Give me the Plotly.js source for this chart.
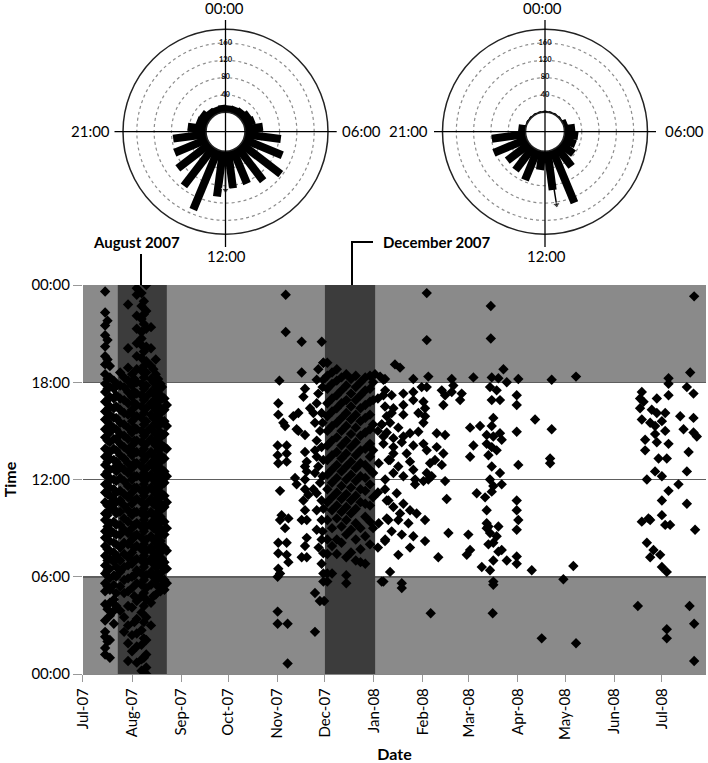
<!DOCTYPE html>
<html><head><meta charset="utf-8">
<script src="https://cdn.plot.ly/plotly-3.0.1.min.js"></script>
<style>html,body{margin:0;padding:0;background:#fff}#chart{width:708px;height:763px}</style>
</head><body><div id="chart"></div>
<script>
// ---------- Rose diagrams (counts per hour, bins centred on half hours) ----------
const roseHours = [0.5,1.5,2.5,3.5,4.5,5.5,6.5,7.5,8.5,9.5,10.5,11.5,12.5,13.5,14.5,15.5,16.5,17.5,18.5,19.5,20.5,21.5,22.5,23.5];
const augustCounts = [16,17,19,24,27,42,84,97,116,98,85,87,106,150,113,94,82,77,43,26,25,18,16,17];
const decemberCounts = [3,3,3,3,10,25,32,31,38,56,133,91,44,76,67,65,83,79,17,3,3,3,3,3];
const meanHours = [12.0, 11.4];       // mean direction (August, December)
const meanLengths = [90, 126];        // mean vector length
const ringValues = [40,80,120,160];
const ringLabels = ['40','80','120','160'];
const polarLabels = ['00:00','06:00','12:00','21:00'];

// ---------- Time-of-day scatter (day offset from 1 Jul 2007, hour of day) ----------
const augColDays = [14,15.5,17,19.5,21,23.5,26,28.5,31,32.5,34,37,38.5,40,43,44.5,46,47.5,49,50,51.5,53];
const augColTimes = [
 [1.2,1.6,2.3,2.6,3.3,4.3,5.1,5.6,6.2,6.7,7.3,7.9,8.4,8.8,9.5,9.9,10.6,11.2,11.7,12.3,12.9,13.4,13.9,14.6,15.1,15.7,16.2,16.8,17.4,17.9,18.5,19.1,19.6,20.2,20.9,21.5,22.3,23.6],
 [2.0,4.0,5.4,6.4,7.0,7.7,8.5,9.1,9.8,10.4,11.1,11.8,12.5,13.1,13.8,14.4,15.0,15.6,16.3,16.9,17.6,18.2,19.4,20.6,21.8],
 [1.0,2.1,3.6,4.4,5.2,5.9,6.5,7.1,7.6,8.2,8.9,9.3,10.1,10.5,11.0,11.5,12.1,12.6,13.3,13.7,14.3,14.9,15.4,16.0,16.5,17.1,17.7,18.3,19.0],
 [3.1,3.9,4.6,5.5,6.1,6.9,7.5,8.1,8.7,9.4,10.2,10.8,11.4,12.0,12.7,13.2,13.9,14.5,15.2,15.8,16.4,17.0,17.6,18.1],
 [4.2,5.0,6.0,6.6,7.3,8.0,8.6,9.2,9.9,10.6,11.2,11.9,12.5,13.1,13.8,14.5,15.1,15.8,16.5,17.2,17.9],
 [3.9,5.4,6.3,7.0,7.8,8.6,9.2,10.0,10.7,11.3,12.1,12.8,13.5,14.2,14.8,15.5,16.3,17.0,17.8,18.6],
 [2.6,3.5,5.0,5.8,6.6,7.4,8.1,8.9,9.6,10.4,11.1,11.9,12.6,13.3,14.0,14.7,15.4,16.1,16.9,17.7,18.3],
 [0.8,1.9,3.0,4.2,5.1,5.9,6.7,7.2,8.0,8.7,9.4,10.1,10.9,11.6,12.4,13.0,13.8,14.5,15.2,16.0,16.7,17.4,18.1,18.9,20.1,22.8],
 [1.4,2.4,4.1,5.3,6.0,6.8,7.5,8.3,9.0,9.8,10.5,11.2,12.0,12.7,13.5,14.1,14.9,15.6,16.3,17.1,17.8,18.5],
 [3.2,4.8,6.1,7.0,7.8,8.5,9.2,10.0,10.7,11.5,12.2,13.0,13.7,14.4,15.2,15.9,16.7,17.4,18.2],
 [0.7,1.7,2.5,3.4,4.5,5.6,6.4,7.1,7.9,8.6,9.3,10.0,10.8,11.5,12.2,13.0,13.7,14.4,15.1,15.9,16.6,17.3,18.0,18.8,19.6,20.4,21.3,22.1,23.4,23.8],
 [0.2,0.9,1.8,2.7,3.8,4.8,5.5,6.2,7.0,7.7,8.4,9.1,9.9,10.6,11.3,12.1,12.8,13.6,14.3,15.0,15.8,16.5,17.2,17.9,18.7,19.5,20.3,20.7,21.1,21.9,22.7,23.5],
 [1.0,2.2,3.2,4.2,5.0,5.8,6.6,7.3,8.0,8.8,9.5,10.2,11.0,11.7,12.4,13.2,13.9,14.7,15.4,16.1,16.9,17.6,18.3,19.0,19.9,21.6,22.2,23.0],
 [0.0,0.4,1.2,2.1,3.5,4.6,5.3,6.1,6.9,7.6,8.3,9.1,9.8,10.5,11.3,12.0,12.7,13.4,14.2,14.9,15.6,16.4,17.1,17.8,18.6,19.3,20.2,21.3,22.4,24.0],
 [3.0,4.4,5.5,6.3,7.1,7.8,8.5,9.3,10.0,10.8,11.5,12.3,13.0,13.7,14.5,15.2,16.0,16.7,17.4,18.2,19.0,20.1,21.4],
 [4.8,6.0,6.8,7.5,8.3,9.0,9.8,10.5,11.3,12.0,12.8,13.5,14.3,15.0,15.8,16.5,17.3,18.0,18.8],
 [4.9,5.8,6.6,7.3,8.1,8.9,9.6,10.4,11.1,11.8,12.6,13.3,14.1,14.8,15.5,16.3,17.0,17.7,18.5,19.4],
 [5.4,6.2,7.0,7.8,8.5,9.3,10.0,10.8,11.5,12.3,13.0,13.8,14.5,15.3,16.0,16.8,17.5,18.2],
 [5.1,5.9,6.7,7.5,8.2,9.0,9.7,10.5,11.2,12.0,12.7,13.5,14.2,14.9,15.7,16.4,17.2,17.9],
 [5.5,6.3,7.1,7.9,8.7,9.5,10.2,11.0,11.7,12.5,13.2,14.0,14.7,15.5,16.2,17.0,17.7],
 [5.2,5.8,6.9,7.8,8.6,9.4,10.3,11.0,11.8,12.5,13.3,14.0,14.8,15.6,16.3,17.0],
 [5.6,6.5,7.6,9.0,10.6,12.2,13.9,15.3,16.6]
];
const decColDays = [154.5,157.5,160.5,163.5,166.5,169.5,172.5,175.5,178.5,181.5,183.5];
const decColTimes = [
 [5.7,6.2,7.4,8.3,9.5,10.6,11.4,12.3,13.2,14.1,15.0,15.9,16.7,17.6,18.4,19.2],
 [6.2,7.9,9.0,10.1,10.9,11.8,12.6,13.5,14.4,15.3,16.2,17.0,17.9,18.6],
 [7.4,8.3,9.6,10.4,11.2,12.1,12.9,13.7,14.6,15.5,16.4,17.2,18.1,18.8],
 [8.1,9.1,10.0,10.8,11.6,12.5,13.3,14.1,15.0,15.8,16.7,17.5,18.3],
 [5.6,6.1,7.2,8.6,9.5,10.3,11.1,12.0,12.8,13.6,14.4,15.3,16.1,16.9,17.8,18.5],
 [7.5,8.9,9.9,10.7,11.5,12.3,13.1,14.0,14.8,15.7,16.5,17.3,18.2],
 [7.0,8.3,9.3,10.2,11.0,11.9,12.7,13.5,14.3,15.2,16.0,16.9,17.7,18.4],
 [6.9,7.7,9.0,10.6,11.4,12.2,13.0,13.8,14.7,15.6,16.4,17.2,18.0],
 [6.8,8.5,9.7,10.5,11.3,12.1,12.9,13.9,14.9,15.8,16.6,17.5,18.3],
 [8.0,9.4,10.4,11.7,12.6,13.4,14.2,15.1,16.0,16.8,17.6,18.4],
 [9.0,10.9,12.4,13.8,15.4,16.9,18.0]
];
const novPoints = [
 [128.2,23.4],[128.2,21.1],[138.3,20.5],[151,20.5],[138.3,18.6],[124.2,18.1],[152,19.2],
 [123.1,3.85],[123.1,3.1],[129.4,3.1],[129.4,0.65],[146.7,2.6],[146.7,5.0],[149.8,4.5],[152.5,4.5],[152,5.7],
 [123.5,16.7],[123.5,16.0],[126.7,15.5],[127.8,15.3],[123.1,14.1],[128.8,14.1],[123.1,13.5],[128.8,13.6],[123.5,13.0],[128.8,13.1],[124.6,11.3],[125.6,9.8],[129.9,9.6],[124.6,9.5],[127.8,9.0],[123.5,8.1],[128.8,8.1],[123.5,7.45],[128.8,7.35],[129.9,6.9],[123.5,6.5],[124.6,6.2],[123.1,6.0],
 [133,15.9],[135.1,15.1],[136.2,15.0],[140.4,14.75],[140.4,13.7],[141.5,13.1],[140.4,12.8],[141.5,12.5],[134.1,12.1],[135.1,11.7],[140.4,12.0],[140.4,11.4],[142.5,11.05],[139.4,10.7],[140.4,10.1],[138.3,9.5],[141.5,9.5],[141.5,8.4],[140.4,7.9],[138.3,7.2],[141.5,7.2],[139.4,17.1],[140.4,17.6],[143.6,16.4],[136.2,16.1],
 [147.8,18.15],[148.8,17.3],[147.8,16.7],[150.9,16.1],[146.7,15.5],[149.9,15.0],[147.8,14.4],[150.9,14.0],[147.8,13.4],[148.8,12.8],[146.7,12.4],[149.9,11.8],[147.8,11.15],[150.9,10.7],[147.8,10.1],[150.9,9.5],[147.8,8.9],[150.9,8.3],[152,7.45],[150.9,6.8],[148.8,18.8],[152,19.2],[145.7,11.4],[146.7,13.8],[145.7,16.1],[152,18.15],[152,6.2],
 [151.5,17.7],[151.5,15.5],[152,13.2],[151.5,12.2],[152,10.2],[151.5,8.8],[149,7.8]
];
const janPoints = [
 [187.9,18.35],[190,18.15],[191.1,17.5],[189,15.4],[192.1,15.9],[190,14.65],[193.2,13.2],[191.1,12.0],[193.2,10.7],[192.1,9.6],[191.1,8.3],[190,5.7],[186.5,17.0],[186.5,15.0],[187,13.0],[186.5,11.2],[187,9.3],[186.5,7.8],
 [190.0,17.2],[195.2,17.2],[202.6,17.3],[208.9,17.4],[214.2,17.7],[217.4,17.7],[191.0,16.5],[196.3,16.4],[202.6,16.6],[208.9,16.9],[215.3,16.8],[216.3,16.4],[195.2,16.1],[202.6,16.0],[212.1,16.1],[216.3,15.9],[188.9,15.4],[194.2,15.5],[199.4,15.2],[192.1,14.9],[196.3,14.55],[202.6,14.65],[206.8,14.85],[212.1,14.95],[215.3,15.5],[190.0,14.2],[196.3,14.0],[201.6,14.3],[208.9,14.1],[215.3,14.2],[217.4,13.8],[196.3,13.6],[204.7,13.6],[194.2,13.2],[199.4,12.8],[206.8,13.1],[208.9,12.6],[196.3,12.4],[202.6,12.2],[217.4,12.4],[220.5,12.2],[215.3,11.9],[191.0,11.4],[198.4,11.15],[210.0,11.7],[210.0,12.0],[192.1,10.7],[196.3,10.3],[202.6,10.5],[206.8,10.1],[200.5,9.9],[211.0,9.9],[199.4,9.5],[205.8,9.3],[216.3,9.5],[193.1,9.5],[191.0,8.2],[195.2,8.8],[201.6,8.6],[208.9,8.5],[206.8,7.8],[199.4,7.35],[194.2,6.3],[216.3,8.2],
 [226.9,17.5],[229.0,17.2],[233.2,17.4],[227.9,16.6],[223.7,14.85],[229.0,14.75],[223.7,14.0],[227.9,13.6],[222.6,13.2],[226.9,12.9],[219.5,13.0],[218.4,12.0],[229.0,11.9],[230.0,10.8],[231.1,8.7],[224.7,7.2],
 [191,18.2],[208.9,18.2],[218.4,18.35],[233.2,18.2],[246.9,18.3],[258.5,18.3],[262.7,18.25],[268,18.0],[275.3,18.2],[296.4,18.15],[184.7,18.5],[197.3,19.1],[200.5,18.9],[265.9,18.8],[311.8,18.35],
 [217.4,23.5],[217.4,20.6],[257.9,22.7],[257.9,20.7],
 [244.8,15.2],[251.1,15.3],[246.9,14.1],[244.8,13.4],[249.0,11.15],[254.3,10.9],[255.3,10.1],[256.4,9.1],[243.7,8.6],[242.7,7.35],[244.8,7.65],[252.2,6.6],[239.5,17.3],[238.5,16.9],[234.2,17.8],
 [257.4,17.7],[261.6,17.5],[258.5,16.9],[263.7,16.9],[274.3,17.2],[274.3,16.6],[259.5,15.8],[258.5,15.3],[255.3,14.75],[259.5,14.65],[263.7,14.85],[264.8,14.45],[255.3,14.2],[258.5,14.0],[261.6,13.8],[256.4,13.5],[258.5,12.8],[263.7,12.4],[257.4,12.0],[259.5,11.6],[264.8,11.7],[258.5,11.25],[274.3,10.7],[274.3,10.1],[275.3,9.5],[274.3,8.9],[255.3,9.0],[257.4,8.7],[261.6,8.5],[259.5,8.1],[262.7,7.55],[259.5,7.0],[268.0,7.0],[274.3,7.25],[274.3,6.8],[257.4,6.4],[255.3,9.3],[262.7,9.1],[264.8,7.65],[256.4,8.0],
 [274.3,14.95],[275.3,12.9],[285.9,15.7],[296.4,15.1],[295.4,13.3],[295.4,13.0],[283.8,6.4],[310.1,6.66],
 [188.9,5.7],[201.6,5.6],[201.6,5.3],[219.9,3.75],[259.1,3.75],[259.5,5.7],[259.5,5.5],[290.1,2.2],[303.8,5.85],[311.8,1.9]
];
const julPoints = [
 [353.4,17.4],[352.3,17.0],[354.5,16.8],[362.9,17.0],[370.3,17.2],[381.9,17.7],[386.1,17.3],[352.3,16.4],[359.7,16.3],[362.9,16.1],[368.2,16.1],[353.4,15.7],[358.7,15.5],[361.8,15.3],[366.1,15.6],[377.7,15.9],[386.1,15.8],[361.8,14.8],[368.2,15.0],[379.8,15.1],[386.1,14.9],[388.2,14.65],[355.5,14.45],[362.9,14.3],[370.3,14.2],[355.5,13.8],[364.0,13.3],[369.2,13.3],[383.0,13.7],[361.8,12.5],[366.1,12.2],[356.6,12.0],[381.9,12.5],[376.6,11.7],[370.3,11.3],[366.1,10.7],[381.9,10.5],[357.6,9.6],[366.1,9.8],[370.3,18.25],[370.3,17.9],[384.0,18.6],[386.5,23.3],
 [353.4,9.4],[358.7,9.5],[368.2,9.2],[371.3,9.2],[356.6,8.1],[360.8,7.65],[358.7,7.2],[365.0,7.35],[366.1,6.6],[369.2,6.3],[387.1,8.9],[350.9,4.2],[369.2,2.76],[369.2,2.2],[383.6,4.2],[386.5,3.1],[386.5,0.8]
];
const yTickVals = [0,6,12,18,24];
const yTickText = ['00:00','06:00','12:00','18:00','00:00'];

// ---------- build ----------
const BASE = Date.UTC(2007,6,1);
const toDate = d => new Date(BASE + d*864e5).toISOString().slice(0,19).replace('T',' ');
const xs = [], ys = [];
function addCols(days, times){ days.forEach((d,i)=>times[i].forEach(t=>{xs.push(toDate(d)); ys.push(t);})); }
function addPts(pts){ pts.forEach(p=>{xs.push(toDate(p[0])); ys.push(p[1]);}); }
addCols(augColDays, augColTimes); addCols(decColDays, decColTimes);
addPts(novPoints); addPts(janPoints); addPts(julPoints);

const X = px => px/708, Y = py => 1 - py/763;

function roseTraces(counts, meanIdx, sub){
  const r = [], th = [];
  roseHours.forEach((h,i)=>{ r.push(0, counts[i], null); th.push(h*15, h*15, null); });
  const deg = meanHours[meanIdx]*15;
  return [
    {type:'scatterpolar', subplot:sub, r:r, theta:th, mode:'lines', line:{color:'#000', width:8}, hoverinfo:'skip', connectgaps:false},
    {type:'scatterpolar', subplot:sub, r:[0, meanLengths[meanIdx]], theta:[deg,deg], mode:'lines+markers',
     line:{color:'#000', width:1.5}, marker:{symbol:['circle','triangle-up'], size:[0,7], angle:[0,deg], color:'#000'}, hoverinfo:'skip'},
    {type:'scatterpolar', subplot:sub, r:ringValues, theta:ringValues.map(()=>0), mode:'text', text:ringLabels,
     textfont:{size:7.5, color:'#111', family:'Lato, sans-serif', weight:'bold'}, hoverinfo:'skip'}
  ];
}

const traces = [
  {type:'scatter', x:xs, y:ys, mode:'markers', marker:{symbol:'diamond', size:8, color:'#000'}, hoverinfo:'x+y'}
].concat(roseTraces(augustCounts,0,'polar'), roseTraces(decemberCounts,1,'polar2'));

function polarCfg(xdom){
  return {
    domain:{x:xdom, y:[0.69305,0.96173]}, hole:0.19, bgcolor:'rgba(0,0,0,0)',
    radialaxis:{range:[0,192], tickvals:ringValues, showticklabels:false, ticks:'', showline:false,
                gridcolor:'#8c8c8c', griddash:'dot', gridwidth:1.2},
    angularaxis:{rotation:90, direction:'clockwise', showgrid:false, showticklabels:false, ticks:'',
                 showline:true, linecolor:'#222', linewidth:1.5}
  };
}

const line = (x0,y0,x1,y1,w) => ({type:'line', xref:'paper', yref:'paper', x0:X(x0), y0:Y(y0), x1:X(x1), y1:Y(y1), line:{color:'#000', width:w}, layer:'above'});
const shapes = [
  {type:'rect', xref:'x', yref:'y', x0:'2007-07-01', x1:'2008-07-29', y0:18, y1:24, fillcolor:'#8a8a8a', line:{width:0}, layer:'below'},
  {type:'rect', xref:'x', yref:'y', x0:'2007-07-01', x1:'2008-07-29', y0:0, y1:6, fillcolor:'#8a8a8a', line:{width:0}, layer:'below'},
  {type:'rect', xref:'x', yref:'y', x0:'2007-07-23', x1:'2007-08-23', y0:0, y1:24, fillcolor:'#3c3c3c', line:{width:0}, layer:'between'},
  {type:'rect', xref:'x', yref:'y', x0:'2007-12-01', x1:'2008-01-01 18:00', y0:0, y1:24, fillcolor:'#3c3c3c', line:{width:0}, layer:'between'},
  line(225.5,20,225.5,247,1.3), line(114.5,131.7,336.7,131.7,1.3),
  line(545,20,545,247,1.3), line(434,131.7,656,131.7,1.3),
  line(141,254,141,285,2), line(352,242,373,242,2), line(352,241,352,285,2)
];

const ann = (t,x,y,opt) => Object.assign({text:t, xref:'paper', yref:'paper', x:X(x), y:Y(y), xanchor:'center', yanchor:'middle', showarrow:false, font:{size:15, color:'#000'}}, opt||{});
const annotations = [
  ann(polarLabels[0],224,8), ann(polarLabels[1],361,131), ann(polarLabels[2],226,256), ann(polarLabels[3],90,131),
  ann(polarLabels[0],542,8), ann(polarLabels[1],684,131), ann(polarLabels[2],546,256), ann(polarLabels[3],408,131),
  ann('<b>August 2007</b>',136,242), ann('<b>December 2007</b>',437,242)
];

const layout = {
  width:708, height:763, margin:{l:0,r:0,t:0,b:0}, paper_bgcolor:'#fff', plot_bgcolor:'#fff', showlegend:false,
  font:{family:'Lato, "Open Sans", sans-serif', size:15, color:'#000'},
  xaxis:{type:'date', domain:[0.11723,0.99718], range:['2007-07-01','2008-07-29'], tick0:'2007-07-01', dtick:'M1',
         tickformat:'%b-%y', tickangle:-90, ticks:'outside', ticklen:7, tickcolor:'#999', showgrid:false, zeroline:false,
         showline:true, linecolor:'#888', linewidth:1.2, automargin:false,
         title:{text:'<b>Date</b>', font:{size:16}, standoff:11}},
  yaxis:{domain:[0.11664,0.62647], range:[0,24], tickvals:yTickVals, ticktext:yTickText, ticks:'outside', ticklen:9,
         tickcolor:'#999', showgrid:true, gridcolor:'#5e5e5e', gridwidth:1.5, zeroline:false, showline:false, automargin:false,
         title:{text:'<b>Time</b>', font:{size:16}, standoff:12}},
  polar:polarCfg([0.17373,0.46328]),
  polar2:polarCfg([0.625,0.91455]),
  shapes:shapes, annotations:annotations
};
Plotly.newPlot('chart', traces, layout, {displayModeBar:false, staticPlot:true});
</script></body></html>
